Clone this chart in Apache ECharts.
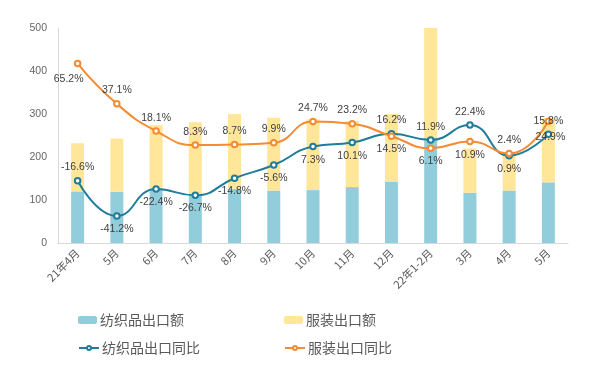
<!DOCTYPE html>
<html>
<head>
<meta charset="utf-8">
<script src="https://cdn.jsdelivr.net/npm/echarts@6/dist/echarts.min.js"></script>
<style>
html,body{margin:0;padding:0;background:#fff;}
#main{width:600px;height:381px;}
</style>
</head>
<body>
<div id="main"></div>
<script>
const categories = ['21年4月','5月','6月','7月','8月','9月','10月','11月','12月','22年1-2月','3月','4月','5月'];
const textileExport = [120, 119, 127, 112, 126, 122, 123, 130, 142, 244, 117, 122, 141];
const apparelExport = [112, 124, 147, 169, 174, 169, 165, 154, 158, 256, 103, 89, 149];
const textileYoY = [-16.6, -41.2, -22.4, -26.7, -14.8, -5.6, 7.3, 10.1, 16.2, 11.9, 22.4, 0.9, 15.8];
const apparelYoY = [65.2, 37.1, 18.1, 8.3, 8.7, 9.9, 24.7, 23.2, 14.5, 6.1, 10.9, 2.4, 24.9];
const yTicks = [0, 100, 200, 300, 400, 500];

// label placement (style only)
const textileLabelPos = ['top','bottom','bottom','bottom','bottom','bottom','bottom','bottom','top','top','top','bottom','top'];
const apparelLabelPos = ['bottom','top','top','top','top','top','top','top','bottom','bottom','bottom','top','bottom'];
const apparelLabelOffset = {0: [-9, 2], 12: [2, 3]};

const labelStyle = {show: true, fontSize: 10.5, color: '#404040', fontFamily: 'Liberation Sans, Arial, sans-serif', distance: 4};

function lineData(values, posArr, offsets) {
  return values.map((v, i) => {
    const lbl = Object.assign({}, labelStyle, {position: posArr[i]});
    if (offsets && offsets[i]) lbl.offset = offsets[i];
    return {value: v, label: lbl};
  });
}

const chart = echarts.init(document.getElementById('main'), null, {renderer: 'canvas'});
const legendText = {fontSize: 14, color: '#595959', fontFamily: 'Noto Sans CJK SC, sans-serif', padding: [0, 0, 0, -2]};
const option = {
  backgroundColor: '#fff',
  animation: false,
  grid: {left: 58, right: 32, top: 28, bottom: 138},
  legend: [
    {data: ['纺织品出口额'], left: 73, top: 308, itemWidth: 19, itemHeight: 8, textStyle: legendText},
    {data: ['服装出口额'], left: 279, top: 308, itemWidth: 19, itemHeight: 8, textStyle: legendText},
    {data: ['纺织品出口同比'], left: 73, top: 336, itemWidth: 20, itemHeight: 5, textStyle: legendText},
    {data: ['服装出口同比'], left: 279, top: 336, itemWidth: 20, itemHeight: 5, textStyle: legendText}
  ],
  xAxis: {
    type: 'category',
    data: categories,
    boundaryGap: true,
    axisLine: {lineStyle: {color: '#D9D9D9', width: 1}},
    axisTick: {show: false},
    axisLabel: {rotate: 45, fontSize: 11, color: '#595959', margin: 8, interval: 0, fontFamily: 'Noto Sans CJK SC, sans-serif'}
  },
  yAxis: [
    {
      type: 'value', min: yTicks[0], max: yTicks[yTicks.length - 1], interval: yTicks[1] - yTicks[0],
      axisLine: {show: true, lineStyle: {color: '#D9D9D9'}},
      axisTick: {show: false},
      splitLine: {show: false},
      axisLabel: {fontSize: 10.5, color: '#666', margin: 11, fontFamily: 'Liberation Sans, Arial, sans-serif'}
    },
    {
      type: 'value', min: -60, max: 90, interval: 30, show: false,
      splitLine: {show: false}
    }
  ],
  series: [
    {name: '纺织品出口额', type: 'bar', stack: 'exp', barWidth: 13, data: textileExport, itemStyle: {color: '#92CDDC'}},
    {name: '服装出口额', type: 'bar', stack: 'exp', barWidth: 13, data: apparelExport, itemStyle: {color: '#FFE699'}},
    {name: '纺织品出口同比', type: 'line', yAxisIndex: 1, smooth: true, symbol: 'emptyCircle', symbolSize: 5.5,
     lineStyle: {color: '#1F7C9B', width: 2}, itemStyle: {color: '#1F7C9B', borderWidth: 1.2},
     data: lineData(textileYoY, textileLabelPos, null),
     label: {formatter: p => p.value.toFixed(1) + '%'}},
    {name: '服装出口同比', type: 'line', yAxisIndex: 1, smooth: true, symbol: 'emptyCircle', symbolSize: 5.5,
     lineStyle: {color: '#F58B32', width: 2}, itemStyle: {color: '#F58B32', borderWidth: 1.2},
     data: lineData(apparelYoY, apparelLabelPos, apparelLabelOffset),
     label: {formatter: p => p.value.toFixed(1) + '%'}}
  ]
};
chart.setOption(option);
</script>
</body>
</html>
